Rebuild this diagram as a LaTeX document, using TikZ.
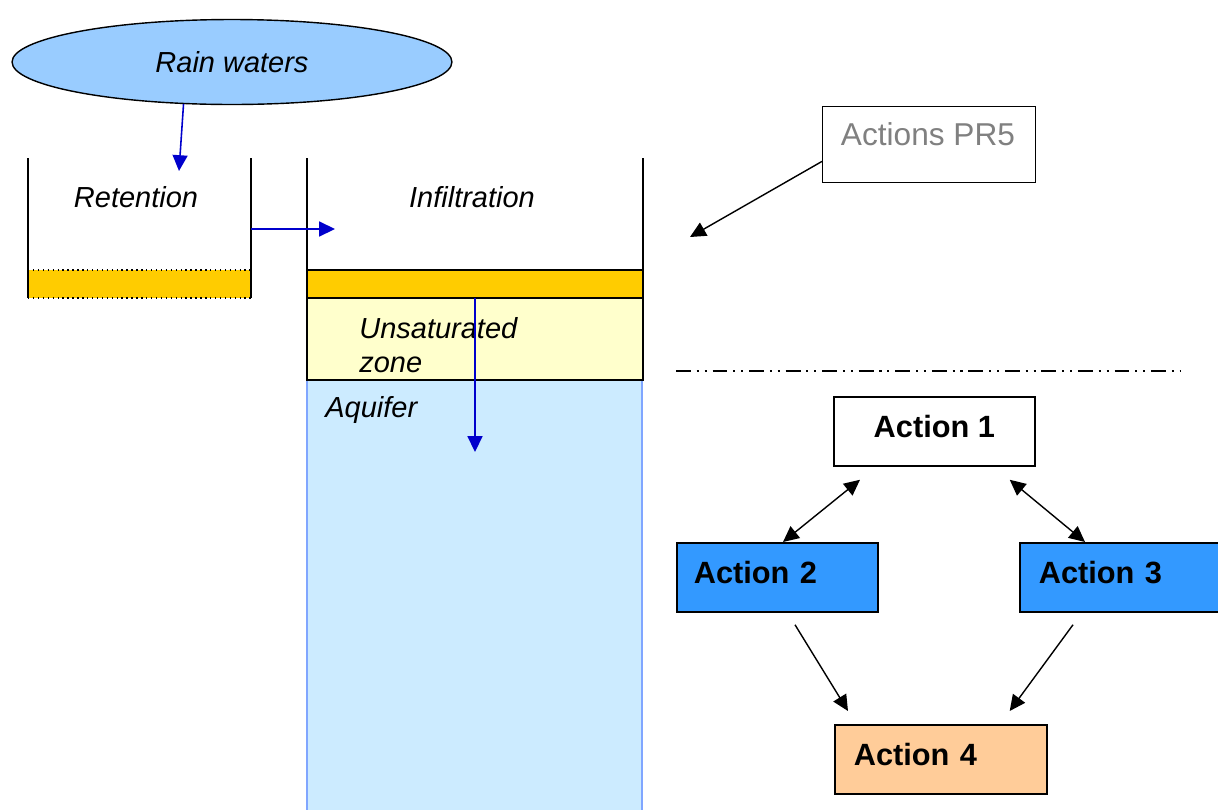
\documentclass[tikz,border=0pt]{standalone}
\usepackage{fontspec}
\setmainfont{Liberation Sans}
\usetikzlibrary{shapes.geometric,arrows.meta,calc}

\definecolor{rainblue}{HTML}{99CCFF}
\definecolor{flowblue}{HTML}{0000CC}
\definecolor{soilorange}{HTML}{FFCC00}
\definecolor{zoneyellow}{HTML}{FFFFCC}
\definecolor{aquiferblue}{HTML}{CCEBFF}
\definecolor{aquiferedge}{HTML}{80A6FF}
\definecolor{actionblue}{HTML}{3399FF}
\definecolor{actionpeach}{HTML}{FFCC99}

\begin{document}
\begin{tikzpicture}[x=0.02cm, y=-0.02cm,
    >={Triangle[length=9pt,width=8.5pt]},
    zonetext/.style={font=\fontsize{16.5}{19}\selectfont\itshape, inner sep=0pt},
    wall/.style={line width=0.8pt},
    flow/.style={flowblue, line width=0.9pt, ->},
    link/.style={line width=0.8pt},
    action/.style={draw, line width=1pt, minimum height=1.38cm, anchor=north west,
        text depth=0.62em, font=\fontsize{17.5}{21}\selectfont\bfseries},
  ]
  \useasboundingbox (0,0) rectangle (1218,809);

  % rain
  \node (rain) [ellipse, draw, line width=0.8pt, fill=rainblue, minimum width=8.8cm, minimum height=1.7cm,
      font=\fontsize{16.5}{19}\selectfont\itshape] at (232,62) {Rain waters};

  % retention basin
  \fill[soilorange] (28,270) rectangle (251,298);
  \draw[wall, dotted] (28,270) -- (251,270) (28,298) -- (251,298);
  \draw[wall] (28,158) -- (28,298) (251,158) -- (251,298);
  \node (ret) [zonetext, anchor=base] at (136,207) {Retention};

  % infiltration basin
  \fill[aquiferblue] (307,380) rectangle (642,812);
  \draw[aquiferedge, line width=1pt] (307,380) -- (307,812) (642,380) -- (642,812);
  \draw[wall, fill=zoneyellow] (307,298) rectangle (643,380);
  \draw[wall, fill=soilorange] (307,270) rectangle (643,298);
  \draw[wall] (307,158) -- (307,270) (643,158) -- (643,270);
  \node (inf) [zonetext, anchor=base] at (472,207) {Infiltration};
  \node (unsat) [zonetext, anchor=west, align=left] at (359,345) {Unsaturated\\zone};
  \node (aq) [zonetext, anchor=base west] at (325,417) {Aquifer};

  % water path
  \coordinate (retin) at (179,171);
  \coordinate (retout) at (251,229);
  \coordinate (infin) at (335,229);
  \coordinate (soil) at (475,298);
  \coordinate (deep) at (475,452);
  \draw[flow] (rain.221) -- (retin);
  \draw[flow] (retout) -- (infin);
  \draw[flow] (soil) -- (deep);

  % actions
  \node (pr5) [draw, line width=0.8pt, minimum width=4.26cm, minimum height=1.52cm, anchor=north west] at (822,106) {};
  \node (pr5txt) [gray, font=\fontsize{18}{21}\selectfont, anchor=base] at (928,145) {Actions PR5};
  \coordinate (target) at (690,237);
  \draw[link, ->] ($(pr5.south west)+(0,-22)$) -- (target);

  \coordinate (sepl) at (676,371);
  \coordinate (sepr) at (1180,371);
  \draw[line width=1pt, dash pattern=on 8.5pt off 3.3pt on 1.2pt off 3.3pt on 1.2pt off 3.3pt] (sepl) -- (sepr);

  \node (a1) [action, fill=white, minimum width=4.02cm] at (833,396) {Action 1};
  \node (a2) [action, fill=actionblue, text width=3.34cm, inner xsep=0.34cm, align=left] at (676,542) {Action 2};
  \node (a3) [action, fill=actionblue, text width=3.22cm, inner xsep=0.38cm, align=left] at (1019,542) {Action 3};
  \node (a4) [action, fill=actionpeach, text width=3.48cm, inner xsep=0.38cm, align=left] at (834,724) {Action 4};

  \draw[link, <->] ($(a2.north west)+(107,0)$) -- ($(a1.south west)+(27,13)$);
  \draw[link, <->] ($(a1.south east)+(-26,13)$) -- ($(a3.north west)+(66,0)$);
  \draw[link, ->] ($(a2.south west)+(119,12)$) -- ($(a4.north west)+(14,-13)$);
  \draw[link, ->] ($(a3.south west)+(54,12)$) -- ($(a4.north east)+(-38,-13)$);
\end{tikzpicture}
\end{document}
